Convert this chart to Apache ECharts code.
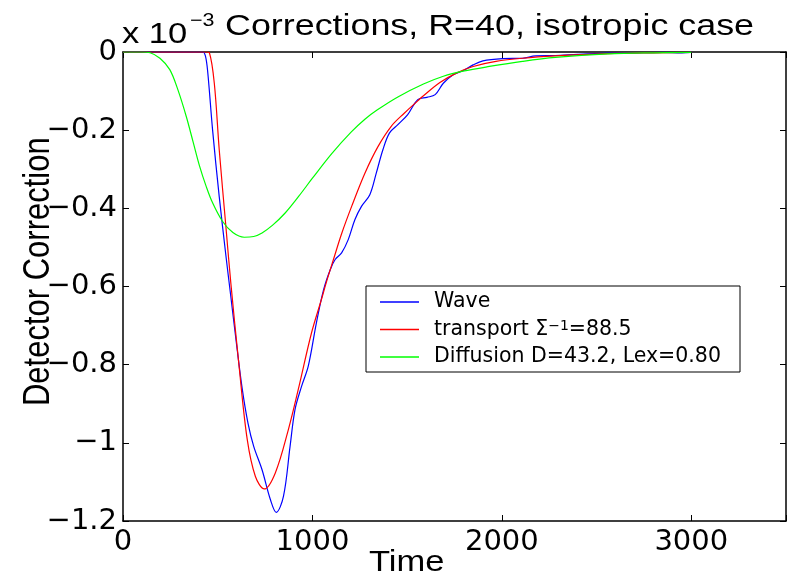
<!DOCTYPE html>
<html>
<head>
<meta charset="utf-8">
<script src="https://cdn.jsdelivr.net/npm/echarts@6/dist/echarts.min.js"></script>
<style>
html,body{margin:0;padding:0;background:#fff;}
#chart{width:789px;height:576px;}
</style>
</head>
<body>
<div id="chart"></div>
<script>
// ---- data (Time, Detector Correction x 1e-3) ----
const waveT = [0,400,421,435,447,473,508,543,569,600,630,660,690,734,778,809,847,882,908,943,978,1021,1059,1094,1120,1154,1189,1224,1259,1303,1337,1372,1407,1451,1503,1556,1604,1648,1691,1743,1795,1848,1900,2004,2109,2178,2282,2400,2560,2700,2850,2950,3000];
const waveV = [0,0,0,-0.01,-0.05,-0.2,-0.37,-0.52,-0.625,-0.75,-0.864,-0.95,-1.009,-1.069,-1.145,-1.178,-1.137,-1.009,-0.915,-0.855,-0.804,-0.693,-0.608,-0.557,-0.531,-0.514,-0.48,-0.429,-0.395,-0.365,-0.31,-0.25,-0.207,-0.186,-0.16,-0.122,-0.116,-0.109,-0.08,-0.058,-0.048,-0.033,-0.0225,-0.017,-0.016,-0.01,-0.009,-0.006,-0.003,-0.002,-0.001,-0.002,-0.001];

const transT = [0,440,456,482,508,543,569,612,656,699,746,804,873,925,995,1047,1073,1111,1154,1207,1277,1346,1416,1486,1556,1586,1673,1760,1848,1969,2109,2282,2560,2800,3000];
const transV = [0,0,-0.002,-0.08,-0.25,-0.446,-0.59,-0.8,-0.992,-1.086,-1.118,-1.077,-0.966,-0.864,-0.719,-0.634,-0.59,-0.531,-0.465,-0.395,-0.31,-0.242,-0.19,-0.156,-0.125,-0.112,-0.078,-0.054,-0.037,-0.024,-0.016,-0.01,-0.004,-0.002,-0.001];

const diffT = [0,100,143,195,247,290,334,370,403,440,473,525,580,640,690,734,790,856,928,1000,1102,1204,1277,1343,1451,1586,1691,1795,1934,2109,2282,2560,2800,3000];
const diffV = [0,0,-0.002,-0.016,-0.045,-0.097,-0.165,-0.23,-0.29,-0.345,-0.386,-0.433,-0.462,-0.474,-0.472,-0.463,-0.443,-0.412,-0.369,-0.323,-0.26,-0.205,-0.172,-0.148,-0.115,-0.082,-0.062,-0.049,-0.037,-0.024,-0.014,-0.005,-0.002,-0.001];

const seriesNames = ['Wave', 'transport \u03A3\u207B\u00B9=88.5', 'Diffusion D=43.2, Lex=0.80'];
const seriesColors = ['#0000ff', '#ff0000', '#00ff00'];
const xTicks = [0, 1000, 2000, 3000];
const yTickLabels = ['0', '\u22120.2', '\u22120.4', '\u22120.6', '\u22120.8', '\u22121', '\u22121.2'];

const pairs = (t, v) => t.map((x, i) => [x, v[i]]);

const chart = echarts.init(document.getElementById('chart'), null, {renderer: 'canvas'});

const tickFont = {fontFamily: 'DejaVu Sans', fontSize: 29, color: '#000'};
const axisLineStyle = {show: true, onZero: false, lineStyle: {color: '#000', width: 1.5}};
const tickStyle = {show: true, inside: true, length: 6, lineStyle: {color: '#000', width: 1}};

function yFmt(v) {
  const k = Math.round(-v / 0.2);
  return yTickLabels[k] !== undefined ? yTickLabels[k] : '';
}
function xFmt(v) {
  return xTicks.indexOf(Math.round(v)) >= 0 ? String(Math.round(v)) : '';
}

const lineSeries = [pairs(waveT, waveV), pairs(transT, transV), pairs(diffT, diffV)].map((d, i) => ({
  name: seriesNames[i],
  type: 'line',
  data: d,
  xAxisIndex: 0,
  yAxisIndex: 0,
  showSymbol: false,
  symbol: 'none',
  smooth: 0.35,
  animation: false,
  color: seriesColors[i],
  lineStyle: {color: seriesColors[i], width: 1.2},
  itemStyle: {color: seriesColors[i]}
}));

const option = {
  backgroundColor: '#fff',
  animation: false,
  color: seriesColors,
  grid: {left: 123, right: -2.5, top: 52, bottom: 55, containLabel: false},
  xAxis: [
    {type: 'value', position: 'bottom', min: 0, max: 3500, interval: 1000,
     axisLine: axisLineStyle, axisTick: tickStyle, splitLine: {show: false},
     axisLabel: Object.assign({margin: 7, formatter: xFmt}, tickFont)},
    {type: 'value', position: 'top', min: 0, max: 3500, interval: 1000,
     axisLine: axisLineStyle, axisTick: tickStyle, splitLine: {show: false},
     axisLabel: {show: false}}
  ],
  yAxis: [
    {type: 'value', position: 'left', min: -1.2, max: 0, interval: 0.2,
     axisLine: axisLineStyle, axisTick: tickStyle, splitLine: {show: false},
     axisLabel: Object.assign({margin: 6, formatter: yFmt}, tickFont)},
    {type: 'value', position: 'right', min: -1.2, max: 0, interval: 0.2,
     axisLine: axisLineStyle, axisTick: tickStyle, splitLine: {show: false},
     axisLabel: {show: false}}
  ],
  legend: {
    left: 366, top: 286, orient: 'vertical',
    padding: [5.5, 15, 4.5, 14],
    itemGap: 6.5, itemWidth: 39, itemHeight: 1.5,
    icon: 'rect',
    backgroundColor: '#fff', borderColor: '#000', borderWidth: 1, borderRadius: 0,
    data: seriesNames.map((n, i) => ({
      name: n,
      itemStyle: {color: seriesColors[i], borderWidth: 0},
      lineStyle: {color: seriesColors[i], width: 1.2}
    })),
    formatter: function (name) {
      const k = name.indexOf('\u207B\u00B9');
      if (k >= 0) {
        return name.slice(0, k) + '{sup|\u22121}' + name.slice(k + 2);
      }
      return name;
    },
    textStyle: {
      fontFamily: 'DejaVu Sans', fontSize: 20.5, color: '#000', lineHeight: 20,
      padding: [0, 0, 0, 10], width: 291,
      rich: {sup: {fontFamily: 'DejaVu Sans', fontSize: 14, lineHeight: 6, verticalAlign: 'top', color: '#000'}}
    }
  },
  graphic: [
    {type: 'text', x: 122, y: 35, scaleX: 1.19, silent: true,
     style: {text: 'x 10', font: '29px "Liberation Sans"', fill: '#000', align: 'left', verticalAlign: 'middle'}},
    {type: 'text', x: 190, y: 20.8, scaleX: 1.19, silent: true,
     style: {text: '\u22123', font: '18px "Liberation Sans"', fill: '#000', align: 'left', verticalAlign: 'middle'}},
    {type: 'text', x: 225, y: 26.6, scaleX: 1.195, silent: true,
     style: {text: 'Corrections, R=40, isotropic case', font: '30px "Liberation Sans"', fill: '#000', align: 'left', verticalAlign: 'middle'}},
    {type: 'text', x: 406.7, y: 562.9, scaleX: 1.15, silent: true,
     style: {text: 'Time', font: '30px "Liberation Sans"', fill: '#000', align: 'center', verticalAlign: 'middle'}},
    {type: 'text', x: 39, y: 271.7, rotation: Math.PI / 2, scaleY: 1.19, silent: true,
     style: {text: 'Detector Correction', font: '31px "Liberation Sans"', fill: '#000', align: 'center', verticalAlign: 'middle'}}
  ],
  series: lineSeries
};

chart.setOption(option);
</script>
</body>
</html>
